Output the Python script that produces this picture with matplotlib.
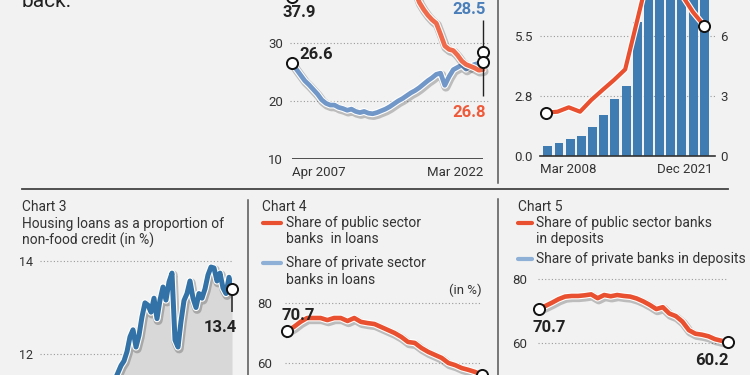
import numpy as np
import matplotlib
matplotlib.use("Agg")
import matplotlib.pyplot as plt
import matplotlib.patheffects as pe

plt.rcParams['font.family'] = ['Roboto', 'DejaVu Sans']

# ---------------- data ----------------
# Chart 1 (Apr 2007 - Mar 2022), two shares in %
c1_red = [37.9, 39.5, 41.0, 42.5, 44.0, 45.5, 46.5, 47.5, 48.5, 49.0, 49.5, 50.0,
          50.5, 50.5, 50.8, 51.0, 51.0, 50.8, 50.5, 50.0, 49.5, 48.5, 47.5, 46.5,
          45.0, 43.5, 42.0, 41.0, 40.0, 39.0, 37.0, 35.8, 34.8, 34.0, 33.4, 31.5,
          29.5, 28.9, 28.7, 27.9, 26.9, 26.3, 26.0, 25.7, 25.3, 25.4]
c1_blue = [26.6, 25.5, 24.5, 23.5, 22.8, 22.0, 21.2, 20.2, 19.6, 19.3, 19.3, 18.9,
           18.7, 18.4, 18.6, 18.2, 18.0, 18.2, 17.9, 17.8, 18.0, 18.3, 18.6, 19.0,
           19.5, 20.0, 20.4, 20.9, 21.4, 21.8, 22.3, 22.9, 23.5, 24.0, 24.6, 24.8,
           22.7, 24.2, 25.4, 25.8, 26.2, 25.5, 26.0, 26.3, 26.5, 26.6]
c1_start = [37.9, 26.6]
c1_end = [28.5, 26.8]
c1_xlabels = ['Apr 2007', 'Mar 2022']
c1_yticks = [10, 20, 30]

# Chart 2 (Mar 2008 - Dec 2021)
c2_bars = [0.5, 0.63, 0.85, 1.02, 1.47, 2.05, 2.83, 3.5, 6.7, 9.0, 10.2, 11.0, 11.5, 12.0, 12.4]
c2_line = [1.99, 2.03, 2.23, 2.03, 2.57, 3.03, 3.48, 3.97, 6.08, 8.2, 8.9, 8.9, 7.4, 6.6, 5.97]
c2_xlabels = ['Mar 2008', 'Dec 2021']
c2_left_ticks = [0, 2.75, 5.5]
c2_left_labels = ['0.0', '2.8', '5.5']
c2_right_ticks = [0, 3, 6]

# Chart 3: housing loans as % of non-food credit
c3_vals = [11.3, 11.45, 11.6, 11.75, 11.85, 12.05, 12.37, 12.52, 12.15, 12.4, 12.8,
           13.1, 13.05, 12.9, 13.2, 12.76, 13.16, 13.44, 13.16, 13.55, 13.74, 12.3,
           12.15, 12.7, 13.15, 13.3, 13.57, 13.2, 13.0, 13.3, 13.2, 13.4, 13.7,
           13.87, 13.85, 13.57, 13.74, 13.42, 13.3, 13.65, 13.4]
c3_yticks = [12, 14]

# Chart 4: share of public sector banks in loans
c4_public = [70.7, 72.0, 73.7, 75.0, 75.0, 75.0, 74.3, 75.0, 75.0, 74.0, 75.0, 73.7,
             73.3, 73.0, 72.0, 71.0, 70.0, 68.7, 67.0, 66.7, 65.0, 63.7, 62.7, 61.7,
             60.0, 59.3, 58.3, 57.7, 57.0, 56.0]
c4_yticks = [60, 80]

# Chart 5: share of public sector banks in deposits
c5_public = [70.7, 71.6, 72.6, 73.7, 74.5, 74.7, 74.7, 74.9, 75.2, 74.0, 75.0, 74.6,
             75.0, 74.7, 74.5, 73.9, 73.0, 71.9, 70.6, 71.2, 69.2, 68.4, 66.7, 64.0,
             62.9, 62.6, 62.1, 61.2, 60.7, 60.2]
c5_yticks = [60, 80]

# ---------------- style ----------------
BG = '#f2f2f2'
RED = '#e9502f'
RED1 = '#ef6a4b'
BLUE1 = '#7097c8'
BAR = '#3f7cb2'
DARK = '#3372a6'
LEG_BLUE = '#8fb0d6'
TXT = '#333333'
W, H = 750, 375

fig = plt.figure(figsize=(7.5, 3.75), dpi=100, facecolor=BG)


def px_ax(left, right, top, bottom, xa, ya):
    ax = fig.add_axes([left / W, 1 - bottom / H, (right - left) / W, (bottom - top) / H])
    sx = (xa[3] - xa[1]) / (xa[2] - xa[0])
    ax.set_xlim(xa[1] + (left - xa[0]) * sx, xa[1] + (right - xa[0]) * sx)
    sy = (ya[3] - ya[1]) / (ya[2] - ya[0])
    ax.set_ylim(ya[1] + (bottom - ya[0]) * sy, ya[1] + (top - ya[0]) * sy)
    ax.set_facecolor('none')
    for s in ax.spines.values():
        s.set_visible(False)
    ax.tick_params(length=0, labelsize=9.5, labelcolor=TXT)
    ax.set_xticks([])
    return ax


def ftext(x, y, s, **kw):
    kw.setdefault('color', TXT)
    fig.text(x / W, 1 - y / H, s, **kw)


def fx(lw, shadow=True):
    eff = []
    if shadow:
        eff.append(pe.SimpleLineShadow(offset=(0.8, -1.3), shadow_color='black', alpha=0.22, linewidth=lw + 3))
    eff += [pe.Stroke(linewidth=lw + 1.6, foreground='white'), pe.Normal()]
    return eff


def circles(ax, x, y):
    ax.plot(x, y, 'o', ms=8, mfc='white', mec='#111111', mew=1.4, clip_on=False, zorder=10, ls='none')


def label(ax, x, y, s, color='#222', **kw):
    ax.text(x, y, s, ha=kw.pop('ha', 'center'), va='center', fontsize=12, fontweight='bold',
            color=color, zorder=12, clip_on=False, **kw)


grid_kw = dict(color='#9a9a9a', linestyle=(0, (1, 2)), linewidth=0.8)

# ---------------- frame lines ----------------
fig.add_artist(plt.Line2D([22 / W, 728 / W], [1 - 189 / H, 1 - 189 / H], color='#444', lw=1.3))
fig.add_artist(plt.Line2D([498 / W, 498 / W], [1, 1 - 183 / H], color='#555', lw=1.1))
fig.add_artist(plt.Line2D([498 / W, 498 / W], [1 - 199 / H, 0], color='#555', lw=1.1))
fig.add_artist(plt.Line2D([248 / W, 248 / W], [1 - 200 / H, 0], color='#555', lw=1.1))

ftext(22, 7, 'back.', fontsize=15, va='baseline', color='#222')

# ---------------- Chart 1 ----------------
n1 = len(c1_red)
x1 = np.arange(n1)
ax1 = px_ax(290, 490, -100, 159, (292, 0, 483, n1 - 1), (43, 30, 159, 10))
ax1.set_yticks(c1_yticks)
ax1.yaxis.grid(True, **grid_kw)
ax1.set_axisbelow(True)
ax1.tick_params(axis='y', pad=5)
ax1.hlines(10, 0, n1 - 1, color='#333', lw=1.2, zorder=2)
ax1.set_xticks([0, n1 - 1])
ax1.set_xticklabels(c1_xlabels)
ax1.tick_params(axis='x', pad=5)
lbls = ax1.get_xticklabels()
lbls[0].set_ha('left'); lbls[1].set_ha('right')
ax1.plot(x1, c1_blue, color=BLUE1, lw=3.4, solid_capstyle='round', path_effects=fx(3.4), zorder=4)
ax1.plot(x1, c1_red, color=RED1, lw=3.4, solid_capstyle='round', path_effects=fx(3.4), zorder=5)
ax1.vlines(n1 - 1, c1_end[1] - 6.0, c1_end[0] + 5.5, color='#222', lw=1.0, zorder=6)
circles(ax1, [0, 0], c1_start)
circles(ax1, [n1 - 1, n1 - 1], c1_end)
label(ax1, 1.7, c1_start[0] - 2.6, f'{c1_start[0]}')
label(ax1, 1.8, c1_start[1] + 1.5, f'{c1_start[1]}', ha='left')
label(ax1, n1 - 4.3, c1_end[0] + 7.2, f'{c1_end[0]}', color='#4b7fba')
label(ax1, n1 - 4.3, c1_end[1] - 8.8, f'{c1_end[1]}', color='#ee5a3a')

# ---------------- Chart 2 ----------------
n2 = len(c2_bars)
x2 = np.arange(n2)
axb = px_ax(540, 715, -100, 156, (546.2, 0, 704.2, n2 - 1), (156, 0, 96, 3))
axb.bar(x2, c2_bars, width=0.8, color=BAR, zorder=3)
axb.yaxis.tick_right()
axb.set_yticks(c2_right_ticks)
axb.yaxis.grid(True, **grid_kw)
axb.set_axisbelow(True)
axb.tick_params(axis='y', pad=4)
axb.spines['bottom'].set_visible(True)
axb.spines['bottom'].set_color('#333')
axb.spines['bottom'].set_linewidth(1.2)
axb.spines['bottom'].set_zorder(5)
axb.set_xticks([x2[0] - 0.7, x2[-1] + 0.7])
axb.set_xticklabels(c2_xlabels)
axb.tick_params(axis='x', pad=5)
lb = axb.get_xticklabels()
lb[0].set_ha('left'); lb[1].set_ha('right')

axl = px_ax(540, 715, -100, 156, (546.2, 0, 704.2, n2 - 1), (156, 0, 96, 2.75))
axl.set_yticks(c2_left_ticks)
axl.set_yticklabels(c2_left_labels)
axl.tick_params(axis='y', pad=5)
axl.plot(x2, c2_line, color=RED, lw=3.0, path_effects=fx(3.0, shadow=False), zorder=4)
circles(axl, [x2[0], x2[-1]], [c2_line[0], c2_line[-1]])

# ---------------- Chart 3 ----------------
ftext(22, 211, 'Chart 3', fontsize=10, va='baseline')
ftext(22, 228, 'Housing loans as a proportion of', fontsize=10, va='baseline')
ftext(22, 245, 'non-food credit (in %)', fontsize=10, va='baseline')
n3 = len(c3_vals)
x3 = np.arange(n3)
ax3 = px_ax(40, 232, 250, 400, (112, 0, 232, n3 - 1), (261, 14, 354, 12))
ax3.set_yticks(c3_yticks)
ax3.yaxis.grid(True, **grid_kw)
ax3.set_axisbelow(True)
ax3.tick_params(axis='y', pad=5, labelsize=9)
ax3.fill_between(x3, c3_vals, 10, color='#d8d8d8', zorder=2, lw=0)
ax3.plot(x3, c3_vals, color=DARK, lw=3.6, solid_joinstyle='round', path_effects=fx(3.6), zorder=4)
ax3.vlines(n3 - 1, c3_vals[-1] - 0.5, c3_vals[-1], color='#222', lw=1.1, zorder=9, clip_on=False)
circles(ax3, [n3 - 1], [c3_vals[-1]])
label(ax3, n3 - 1 - 3.9, c3_vals[-1] - 0.82, f'{c3_vals[-1]}')

# ---------------- Chart 4 ----------------
ftext(262, 211, 'Chart 4', fontsize=10, va='baseline')
fig.add_artist(plt.Line2D([263 / W, 281 / W], [1 - 223 / H] * 2, color=RED, lw=3.0, solid_capstyle='round'))
ftext(286, 227, 'Share of public sector', fontsize=10, va='baseline')
ftext(286, 243, 'banks  in loans', fontsize=10, va='baseline')
fig.add_artist(plt.Line2D([263 / W, 281 / W], [1 - 263 / H] * 2, color=LEG_BLUE, lw=3.0, solid_capstyle='round'))
ftext(286, 267, 'Share of private sector', fontsize=10, va='baseline')
ftext(286, 284, 'banks in loans', fontsize=10, va='baseline')
ftext(482, 294, '(in %)', fontsize=9.5, va='baseline', ha='right')
n4 = len(c4_public)
x4 = np.arange(n4)
ax4 = px_ax(285, 482, 280, 400, (287, 0, 482, n4 - 1), (303, 80, 363, 60))
ax4.set_yticks(c4_yticks)
ax4.yaxis.grid(True, **grid_kw)
ax4.set_axisbelow(True)
ax4.tick_params(axis='y', pad=9)
ax4.plot(x4, c4_public, color=RED, lw=3.3, path_effects=fx(3.3), zorder=4)
circles(ax4, [0, n4 - 1], [c4_public[0], c4_public[-1]])
label(ax4, 1.7, c4_public[0] + 5.0, f'{c4_public[0]}')

# ---------------- Chart 5 ----------------
ftext(518, 211, 'Chart 5', fontsize=10, va='baseline')
fig.add_artist(plt.Line2D([518 / W, 532 / W], [1 - 223 / H] * 2, color=RED, lw=3.0, solid_capstyle='round'))
ftext(536, 227, 'Share of public sector banks', fontsize=10, va='baseline')
ftext(536, 243, 'in deposits', fontsize=10, va='baseline')
fig.add_artist(plt.Line2D([518 / W, 532 / W], [1 - 259 / H] * 2, color=LEG_BLUE, lw=3.0, solid_capstyle='round'))
ftext(536, 263, 'Share of private banks in deposits', fontsize=10, va='baseline')
n5 = len(c5_public)
x5 = np.arange(n5)
ax5 = px_ax(538, 728, 265, 400, (539, 0, 728, n5 - 1), (279, 80, 343, 60))
ax5.set_yticks(c5_yticks)
ax5.yaxis.grid(True, **grid_kw)
ax5.set_axisbelow(True)
ax5.tick_params(axis='y', pad=8)
ax5.plot(x5, c5_public, color=RED, lw=3.3, path_effects=fx(3.3), zorder=4)
circles(ax5, [0, n5 - 1], [c5_public[0], c5_public[-1]])
label(ax5, 1.6, c5_public[0] - 5.9, f'{c5_public[0]}')
label(ax5, n5 - 1 - 2.4, c5_public[-1] - 5.6, f'{c5_public[-1]}')

fig.savefig('out.png', dpi=100, facecolor=BG)
